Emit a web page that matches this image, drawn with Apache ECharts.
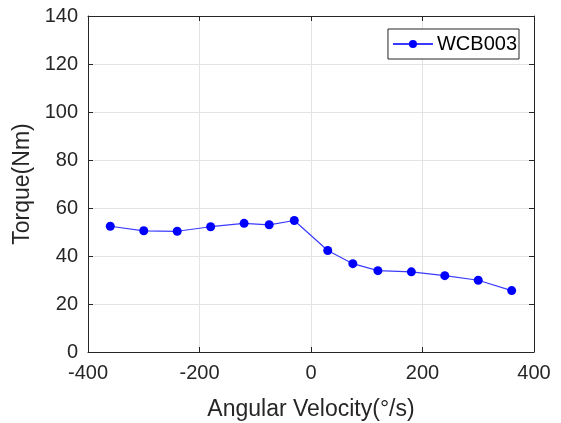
<!DOCTYPE html>
<html><head><meta charset="utf-8">
<script src="https://cdn.jsdelivr.net/npm/echarts@6/dist/echarts.min.js"></script>
<style>html,body{margin:0;padding:0;background:#fff}#c{width:561px;height:423px}</style>
</head><body><div id="c"></div>
<script>
const seriesName = 'WCB003';
const angularVelocity = [-360, -300, -240, -180, -120, -75, -30, 30, 75, 120, 180, 240, 300, 360];
const torque = [52.4, 50.5, 50.3, 52.2, 53.6, 53.0, 54.8, 42.3, 36.8, 33.9, 33.4, 31.8, 29.9, 25.6];
const xTicks = [-400, -200, 0, 200, 400];
const yTicks = [0, 20, 40, 60, 80, 100, 120, 140];

const font = 'Liberation Sans, Arial, Helvetica, sans-serif';
const txt = '#262626';
const chart = echarts.init(document.getElementById('c'), null, {renderer: 'canvas'});
const common = {
  axisLine: {show: true, onZero: false, lineStyle: {color: txt, width: 1}},
  axisTick: {show: true, inside: true, length: 5, lineStyle: {color: txt}},
};
chart.setOption({
  animation: false,
  backgroundColor: '#fff',
  grid: {left: 88, right: 27, top: 16, bottom: 71, containLabel: false, outerBoundsMode: 'none'},
  legend: {
    show: true, right: 42, top: 29, orient: 'horizontal',
    data: [seriesName],
    itemWidth: 40, itemHeight: 10, itemGap: 4,
    padding: [5, 2, 5, 4],
    borderColor: txt, borderWidth: 1, borderRadius: 0,
    backgroundColor: '#fff',
    textStyle: {fontFamily: font, fontSize: 20, color: '#000', padding: [0, 0, 0, -1]}
  },
  xAxis: [{
    type: 'value', min: xTicks[0], max: xTicks[xTicks.length-1], interval: 200,
    name: 'Angular Velocity(°/s)', nameLocation: 'middle', nameGap: 46,
    nameTextStyle: {fontFamily: font, fontSize: 23, color: txt},
    ...common,
    axisLabel: {fontFamily: font, fontSize: 20, color: txt, margin: 11},
    splitLine: {show: true, lineStyle: {color: '#e3e3e3', width: 1}}
  }, {
    type: 'value', position: 'top', min: xTicks[0], max: xTicks[xTicks.length-1], interval: 200,
    ...common, axisLabel: {show: false}, splitLine: {show: false}
  }],
  yAxis: [{
    type: 'value', min: yTicks[0], max: yTicks[yTicks.length-1], interval: 20,
    name: 'Torque(Nm)', nameLocation: 'middle', nameGap: 48,
    nameTextStyle: {fontFamily: font, fontSize: 23, color: txt},
    ...common,
    axisLabel: {fontFamily: font, fontSize: 20, color: txt, margin: 10},
    splitLine: {show: true, lineStyle: {color: '#e3e3e3', width: 1}}
  }, {
    type: 'value', position: 'right', min: yTicks[0], max: yTicks[yTicks.length-1], interval: 20,
    ...common, axisLabel: {show: false}, splitLine: {show: false}
  }],
  series: [{
    name: seriesName, type: 'line',
    data: angularVelocity.map((v, i) => [v, torque[i]]),
    symbol: 'circle', symbolSize: 9,
    itemStyle: {color: '#0000ff'},
    lineStyle: {color: '#3b3bff', width: 1.2}
  }]
});
</script></body></html>
